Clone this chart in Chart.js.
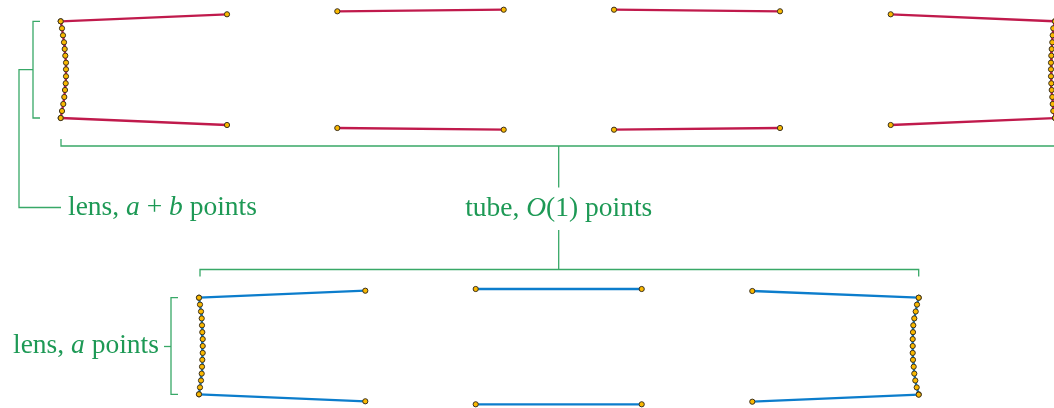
<!DOCTYPE html>
<html>
<head>
<meta charset="utf-8">
<script src="https://cdn.jsdelivr.net/npm/chart.js@4.4.1/dist/chart.umd.min.js"></script>
<style>
  html, body { margin: 0; padding: 0; background: #fff; overflow: hidden; }
  #wrap { width: 1054px; height: 408px; position: relative; }
</style>
</head>
<body>
<div id="wrap"><canvas id="diagram"></canvas></div>
<script>
// Diagram coordinates (x to the right, y downward).

// top row: lens with a + b points on each end, tube in between
const topLensY = [21.3, 28.3, 35.3, 42.3, 49, 55.7, 62.7, 69.3, 76.3, 83.3, 90, 97, 104, 111, 118];
const topLeftLensX = [60.7, 62, 63, 64, 64.7, 65.3, 66, 66, 66, 65.7, 65, 64.3, 63.3, 62, 60.7];
const topRightLensX = [1055, 1053.3, 1052.7, 1052.3, 1051.7, 1051.3, 1051, 1051, 1051, 1051.3, 1051.7, 1052.3, 1052.7, 1053.3, 1055];
const topSegX = [[60.7, 227], [337.3, 503.7], [614, 780], [890.7, 1055]];
const topUpperY = [[21.3, 14.3], [11.3, 9.7], [9.7, 11.3], [14.3, 21.3]];
const topLowerY = [[118, 125], [128, 129.7], [129.7, 128], [125, 118]];

// bottom row: lens with a points
const botLensY = [297.7, 304.6, 311.5, 318.4, 325.3, 332.2, 339.1, 346, 352.9, 359.8, 366.7, 373.6, 380.5, 387.4, 394.3];
const botLeftLensX = [199, 200, 201, 201.7, 202, 202.3, 202.7, 202.7, 202.7, 202.3, 202, 201.7, 201, 200, 199];
const botRightLensX = [918.7, 917, 915.7, 914.3, 913.3, 913, 912.7, 912.7, 912.7, 913, 913.7, 914.3, 915.3, 916.7, 918.7];
const botSegX = [[199, 365.3], [475.7, 641.7], [752.3, 918.7]];
const botUpperY = [[297.7, 290.7], [289, 289], [291, 297.7]];
const botLowerY = [[394.3, 401.3], [404.3, 404.3], [401.7, 394.7]];

// brackets (polylines)
const bracketX = [
  [40, 33, 33, 40],            // top lens
  [33, 19, 19, 61],            // top lens stem to label
  [61, 61, 1055, 1055],        // tube (top)
  [558.7, 558.7],              // tube stem upper
  [558.7, 558.7],              // tube stem lower
  [200, 200, 918.7, 918.7],    // tube (bottom)
  [178, 171, 171, 178],        // bottom lens
  [164, 171],                  // bottom lens stem
];
const bracketY = [
  [21.3, 21.3, 118, 118],
  [69.7, 69.7, 207.5, 207.5],
  [139, 146, 146, 139],
  [146, 187.5],
  [230, 269.5],
  [276.5, 269.5, 269.5, 276.5],
  [297.7, 297.7, 394.3, 394.3],
  [346.5, 346.5],
];

// labels: text runs, italic where marked
const labelText = [
  [["lens, ", false], ["a", true], [" + ", false], ["b", true], [" points", false]],
  [["tube, ", false], ["O", true], ["(1) points", false]],
  [["lens, ", false], ["a", true], [" points", false]],
];
const labelX = [68, 558.7, 13];
const labelY = [215, 216, 353];
const labelAlign = ["left", "center", "left"];

const RED = "#c01a4c";
const BLUE = "#0c7dcc";
const GREEN_LINE = "#38a867";
const GREEN_TEXT = "#1d9955";
const DOT = "#f9b800";
const DOT_EDGE = "#3a3020";
const FONT = "'Liberation Serif', 'DejaVu Serif', serif";
const FONT_SIZE = 27.5;

function zipPts(xs, ys) {
  return xs.map((x, i) => ({ x, y: ys[i] }));
}

function strand(data, color) {
  return {
    data,
    showLine: true,
    borderColor: color,
    borderWidth: 2.3,
    pointRadius: 2.6,
    pointBorderWidth: 1,
    pointBackgroundColor: DOT,
    pointBorderColor: DOT_EDGE,
    clip: false,
  };
}

function bracket(data) {
  return {
    data,
    showLine: true,
    borderColor: GREEN_LINE,
    borderWidth: 1.3,
    pointRadius: 0,
    clip: false,
    order: 5,
  };
}

const datasets = [];
bracketX.forEach((xs, i) => datasets.push(bracket(zipPts(xs, bracketY[i]))));
topSegX.forEach((xs, i) => {
  datasets.push(strand(zipPts(xs, topUpperY[i]), RED));
  datasets.push(strand(zipPts(xs, topLowerY[i]), RED));
});
datasets.push(strand(zipPts(topLeftLensX, topLensY), RED));
datasets.push(strand(zipPts(topRightLensX, topLensY), RED));
botSegX.forEach((xs, i) => {
  datasets.push(strand(zipPts(xs, botUpperY[i]), BLUE));
  datasets.push(strand(zipPts(xs, botLowerY[i]), BLUE));
});
datasets.push(strand(zipPts(botLeftLensX, botLensY), BLUE));
datasets.push(strand(zipPts(botRightLensX, botLensY), BLUE));

const labelsPlugin = {
  id: "richLabels",
  afterDatasetsDraw(chart) {
    const { ctx, scales } = chart;
    ctx.save();
    ctx.fillStyle = GREEN_TEXT;
    ctx.textBaseline = "alphabetic";
    ctx.textAlign = "left";
    labelText.forEach((runs, i) => {
      const fontOf = (it) => (it ? "italic " : "") + FONT_SIZE + "px " + FONT;
      let width = 0;
      runs.forEach(([t, it]) => { ctx.font = fontOf(it); width += ctx.measureText(t).width; });
      let x = scales.x.getPixelForValue(labelX[i]);
      if (labelAlign[i] === "center") x -= width / 2;
      const y = scales.y.getPixelForValue(labelY[i]);
      runs.forEach(([t, it]) => {
        ctx.font = fontOf(it);
        ctx.fillText(t, x, y);
        x += ctx.measureText(t).width;
      });
    });
    ctx.restore();
  },
};

new Chart(document.getElementById("diagram"), {
  type: "scatter",
  data: { datasets },
  options: {
    responsive: true,
    maintainAspectRatio: false,
    animation: false,
    layout: { padding: 0, autoPadding: false },
    plugins: { legend: { display: false }, tooltip: { enabled: false } },
    scales: {
      x: { type: "linear", min: 0, max: 1054, display: false },
      y: { type: "linear", min: 0, max: 408, reverse: true, display: false },
    },
  },
  plugins: [labelsPlugin],
});
</script>
</body>
</html>
